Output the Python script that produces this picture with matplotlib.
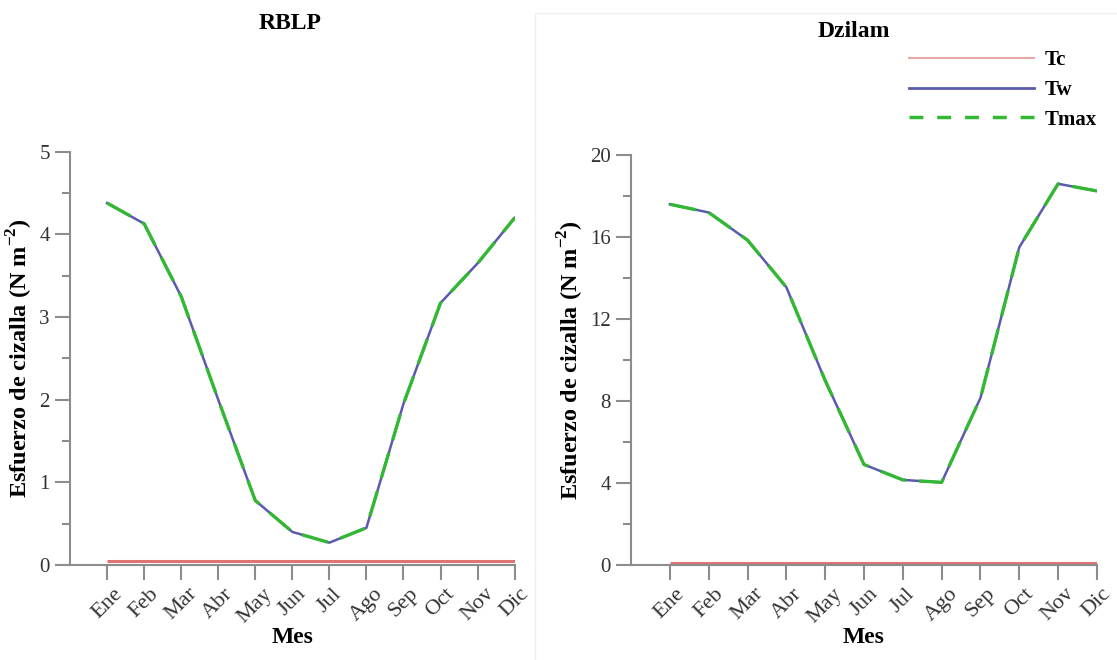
import matplotlib
matplotlib.use("Agg")
from matplotlib import pyplot as plt
from matplotlib.ticker import MultipleLocator
from matplotlib.lines import Line2D
from matplotlib.patches import Rectangle

plt.rcParams['font.family'] = ['Liberation Serif', 'DejaVu Serif']
plt.rcParams['mathtext.fontset'] = 'custom'
plt.rcParams['mathtext.rm'] = 'Liberation Serif'
plt.rcParams['mathtext.bf'] = 'Liberation Serif:bold'

meses = ['Ene', 'Feb', 'Mar', 'Abr', 'May', 'Jun',
         'Jul', 'Ago', 'Sep', 'Oct', 'Nov', 'Dic']
x = list(range(1, 13))

# RBLP
rblp_tc = [0.05] * 12
rblp_tw = [4.38, 4.13, 3.25, 2.0, 0.78, 0.40, 0.27, 0.45, 1.95, 3.17, 3.65, 4.2]
rblp_tmax = rblp_tw

# Dzilam
dz_tc = [0.1] * 12
dz_tw = [17.6, 17.2, 15.85, 13.55, 9.0, 4.9, 4.15, 4.03, 8.15, 15.5, 18.6, 18.25]
dz_tmax = dz_tw

c_tc = '#e07272'
c_tw = '#5a5aae'
c_tmax = '#33b833'
gris = '#8c8c8c'

fig = plt.figure(figsize=(11.17, 6.6), dpi=100)

# marco claro del panel derecho
fig.patches.append(Rectangle((0.479, -0.01), 0.53, 0.99, transform=fig.transFigure,
                             fill=False, edgecolor='#efefef', lw=1.0))

ax1 = fig.add_axes([0.0627, 0.144, 0.398, 0.626])
ax2 = fig.add_axes([0.565, 0.144, 0.417, 0.621])


def panel(ax, tc, tw, tmax, ymax, paso):
    ax.plot(x, tc, color=c_tc, lw=2.2, solid_capstyle='butt')
    ax.plot(x, tw, color=c_tw, lw=1.8)
    ax.plot(x, tmax, color=c_tmax, lw=2.4, dashes=(8, 4))
    ax.set_xlim(0, 12)
    ax.set_ylim(0, ymax)
    ax.yaxis.set_major_locator(MultipleLocator(paso))
    ax.yaxis.set_minor_locator(MultipleLocator(paso / 2))
    ax.set_xticks(x)
    ax.set_xticklabels(meses, rotation=45, fontsize=16, color='#333333')
    for t in ax.get_yticklabels():
        t.set_fontsize(15)
        t.set_color('#333333')
    for s in ['top', 'right']:
        ax.spines[s].set_visible(False)
    for s in ['left', 'bottom']:
        ax.spines[s].set_color(gris)
        ax.spines[s].set_linewidth(1.5)
    ax.tick_params(which='major', direction='out', length=11, width=1.5, color=gris)
    ax.tick_params(axis='y', which='minor', direction='out', length=6, width=1.5, color=gris)
    ax.tick_params(axis='x', pad=3)
    ax.set_xlabel('Mes', fontsize=17, fontweight='bold', labelpad=0)
    ax.set_ylabel(r'Esfuerzo de cizalla (N m$^{\mathbf{-2}}$)', fontsize=17.5,
                  fontweight='bold', labelpad=3)


panel(ax1, rblp_tc, rblp_tw, rblp_tmax, 5, 1)
panel(ax2, dz_tc, dz_tw, dz_tmax, 20, 4)

fig.text(0.26, 0.965, 'RBLP', ha='center', va='center', fontsize=17, fontweight='bold')
fig.text(0.764, 0.953, 'Dzilam', ha='center', va='center', fontsize=17, fontweight='bold')

handles = [Line2D([], [], color='#e8a8a8', lw=1.5),
           Line2D([], [], color=c_tw, lw=2),
           Line2D([], [], color=c_tmax, lw=2.5, dashes=(4, 4))]
fig.legend(handles, ['Tc', 'Tw', 'Tmax'], loc='upper left',
           bbox_to_anchor=(0.797, 0.952), frameon=False, handlelength=6.0,
           handletextpad=0.5, labelspacing=0.46,
           prop={'family': 'Liberation Serif', 'weight': 'bold', 'size': 15})

fig.savefig('out.png', dpi=100)
